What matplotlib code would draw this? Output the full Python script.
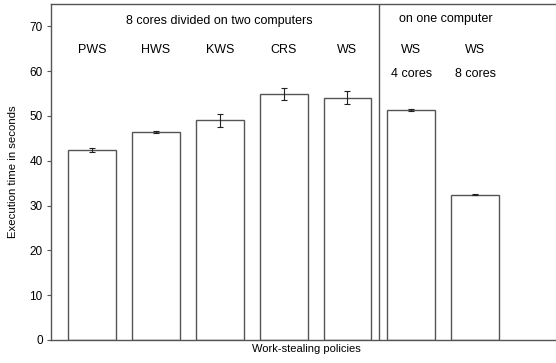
import matplotlib
matplotlib.use("Agg")
import matplotlib.pyplot as plt

policies = ["PWS", "HWS", "KWS", "CRS", "WS", "WS", "WS"]
sublabels = ["", "", "", "", "", "4 cores", "8 cores"]
times = [42.4, 46.5, 49.0, 54.9, 54.1, 51.3, 32.4]
errors = [0.4, 0.2, 1.4, 1.3, 1.5, 0.2, 0.1]
yticks = [0, 10, 20, 30, 40, 50, 60, 70]

plt.rcParams['font.family'] = ['Liberation Sans', 'DejaVu Sans']
fig = plt.figure(figsize=(5.56, 3.63), dpi=100)
ax = fig.add_axes([51/556, 1 - 340/363, 1 - 51/556 + 0.01, 336/363])

edge = '#555555'
x = list(range(len(times)))
ax.bar(x, times, width=0.75, color='white', edgecolor=edge, linewidth=1.0, zorder=2)
ax.errorbar(x, times, yerr=errors, fmt='none', ecolor='#222222', elinewidth=0.8,
            capsize=2, capthick=0.8, zorder=3)

ax.set_xlim(-0.64, 7.35)
ax.set_ylim(0, 75)
ax.set_yticks(yticks)
ax.set_xticks([])
ax.tick_params(axis='y', labelsize=8.5, length=3, width=0.8, color=edge, pad=3)
for s in ['left', 'bottom', 'top']:
    ax.spines[s].set_color(edge)
    ax.spines[s].set_linewidth(1.0)
ax.spines['right'].set_visible(False)

ax.axvline(4.5, color=edge, linewidth=1.0)

fs = 9
ax.text(2.0, 71.1, "8 cores divided on two computers", ha='center', va='center', fontsize=fs)
ax.text(5.54, 71.7, "on one computer", ha='center', va='center', fontsize=fs)
for i, (p, s) in enumerate(zip(policies, sublabels)):
    ax.text(i, 64.7, p, ha='center', va='center', fontsize=fs)
    if s:
        ax.text(i, 59.4, s, ha='center', va='center', fontsize=fs)

ax.set_ylabel("Execution time in seconds", fontsize=8.2, labelpad=8)
ax.set_xlabel("Work-stealing policies", fontsize=8, labelpad=3)

fig.savefig("out.png", dpi=100)
